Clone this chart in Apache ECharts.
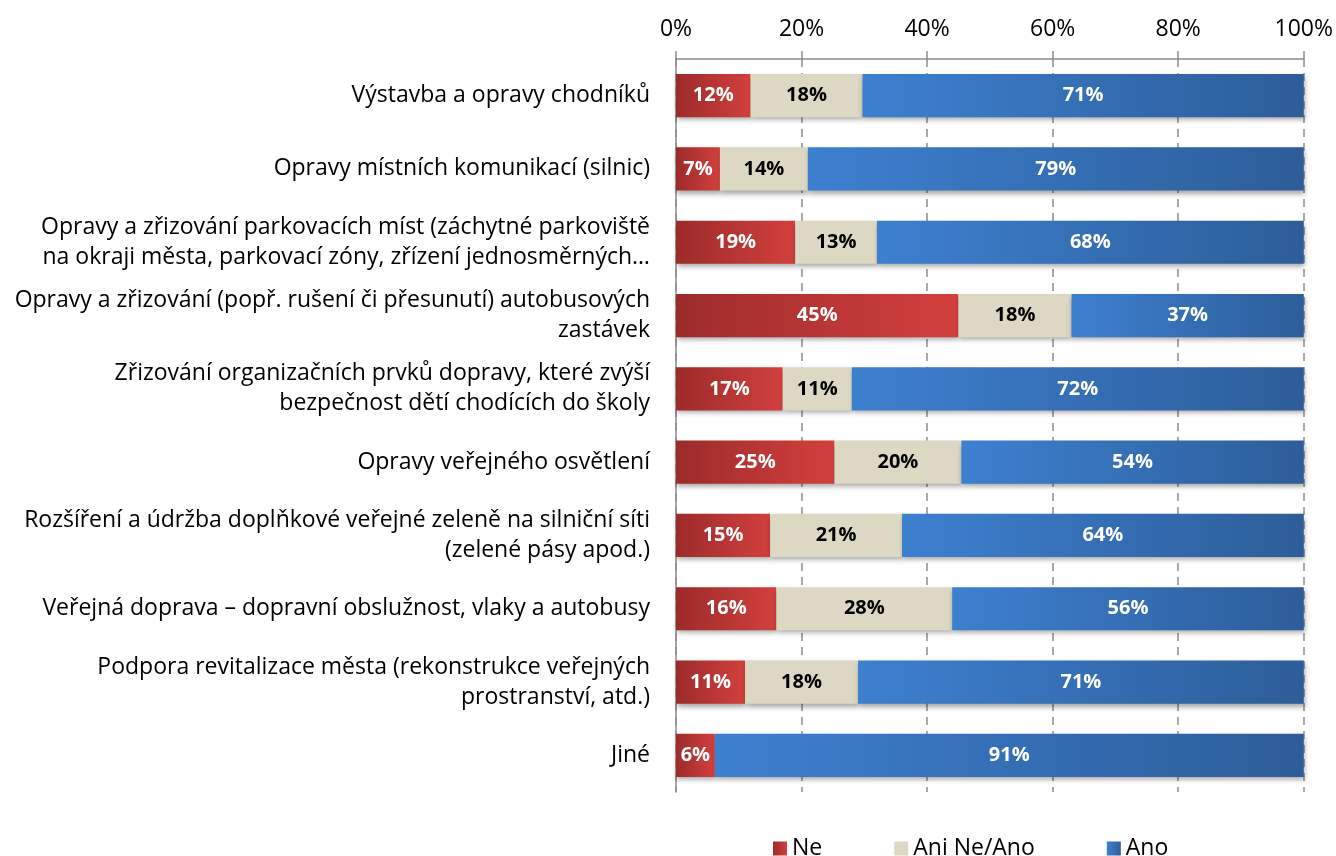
<!DOCTYPE html>
<html>
<head>
<meta charset="utf-8">
<script src="https://cdn.jsdelivr.net/npm/echarts@6/dist/echarts.min.js"></script>
<style>
html,body{margin:0;padding:0;background:#fff;}
#c{width:1336px;height:856px;}
</style>
</head>
<body>
<div id="c"></div>
<script>
const categories = [
  "Výstavba a opravy chodníků",
  "Opravy místních komunikací (silnic)",
  "Opravy a zřizování parkovacích míst (záchytné parkoviště\nna okraji města, parkovací zóny, zřízení jednosměrných…",
  "Opravy a zřizování (popř. rušení či přesunutí) autobusových\nzastávek",
  "Zřizování organizačních prvků dopravy, které zvýší\nbezpečnost dětí chodících do školy",
  "Opravy veřejného osvětlení",
  "Rozšíření a údržba doplňkové veřejné zeleně na silniční síti\n(zelené pásy apod.)",
  "Veřejná doprava – dopravní obslužnost, vlaky a autobusy",
  "Podpora revitalizace města (rekonstrukce veřejných\nprostranství, atd.)",
  "Jiné"
];
const ne     = [12, 7, 19, 45, 17, 25, 15, 16, 11, 6];
const aniNeAno = [18, 14, 13, 18, 11, 20, 21, 28, 18, 0];
const ano    = [71, 79, 68, 37, 72, 54, 64, 56, 71, 91];
const tickLabels = ["0%", "20%", "40%", "60%", "80%", "100%"];

const FONT = "Open Sans";
const totals = categories.map((_, i) => ne[i] + aniNeAno[i] + ano[i]);
function norm(arr) {
  return arr.map((v, i) => ({ value: v / totals[i] * 100, raw: v }));
}
function grad(c1, c2) {
  return new echarts.graphic.LinearGradient(0, 0, 1, 0, [
    { offset: 0, color: c1 }, { offset: 1, color: c2 }
  ]);
}
const shadow = { shadowColor: 'rgba(0,0,0,0.35)', shadowBlur: 5, shadowOffsetX: 1, shadowOffsetY: 3 };

function series(name, arr, color, labelColor) {
  return {
    name: name,
    type: 'bar',
    stack: 'total',
    barWidth: '59%',
    data: norm(arr),
    itemStyle: Object.assign({ color: color }, shadow),
    label: {
      show: true,
      position: 'inside',
      fontFamily: FONT,
      fontSize: 20,
      fontWeight: 'bold',
      color: labelColor,
      formatter: p => p.data.raw > 0 ? p.data.raw + '%' : ''
    }
  };
}

const chart = echarts.init(document.getElementById('c'), null, { renderer: 'canvas' });
chart.setOption({
  animation: false,
  textStyle: { fontFamily: FONT },
  grid: { left: 676, right: 32, top: 59, bottom: 64, containLabel: false },
  legend: {
    top: 832,
    left: 768,
    itemWidth: 14,
    itemHeight: 14,
    itemGap: 72,
    icon: 'rect',
    textStyle: { fontFamily: FONT, fontSize: 23, color: '#000' },
    data: ['Ne', 'Ani Ne/Ano', 'Ano']
  },
  xAxis: {
    type: 'value',
    position: 'top',
    min: 0, max: 100, interval: 20,
    axisLine: { show: true, lineStyle: { color: '#8c8c8c', width: 1.5 } },
    axisTick: { show: true, length: 8, lineStyle: { color: '#8c8c8c', width: 1.5 } },
    axisLabel: {
      fontFamily: FONT, fontSize: 23, color: '#000', margin: 18,
      formatter: v => tickLabels[Math.round(v / 20)]
    },
    splitLine: { show: true, lineStyle: { color: '#8c8c8c', type: [8, 6], width: 1.5 } }
  },
  yAxis: {
    type: 'category',
    inverse: true,
    data: categories,
    axisLine: { show: true, lineStyle: { color: '#8c8c8c', width: 1.5 } },
    axisTick: { show: false },
    axisLabel: {
      fontFamily: FONT, fontSize: 23, color: '#000', lineHeight: 30,
      margin: 26, align: 'right'
    }
  },
  series: [
    series('Ne', ne, grad('#9c2b2b', '#d2403d'), '#fff'),
    series('Ani Ne/Ano', aniNeAno, '#ddd8c3', '#000'),
    series('Ano', ano, grad('#3d80d0', '#2d5d99'), '#fff')
  ]
});
</script>
</body>
</html>
